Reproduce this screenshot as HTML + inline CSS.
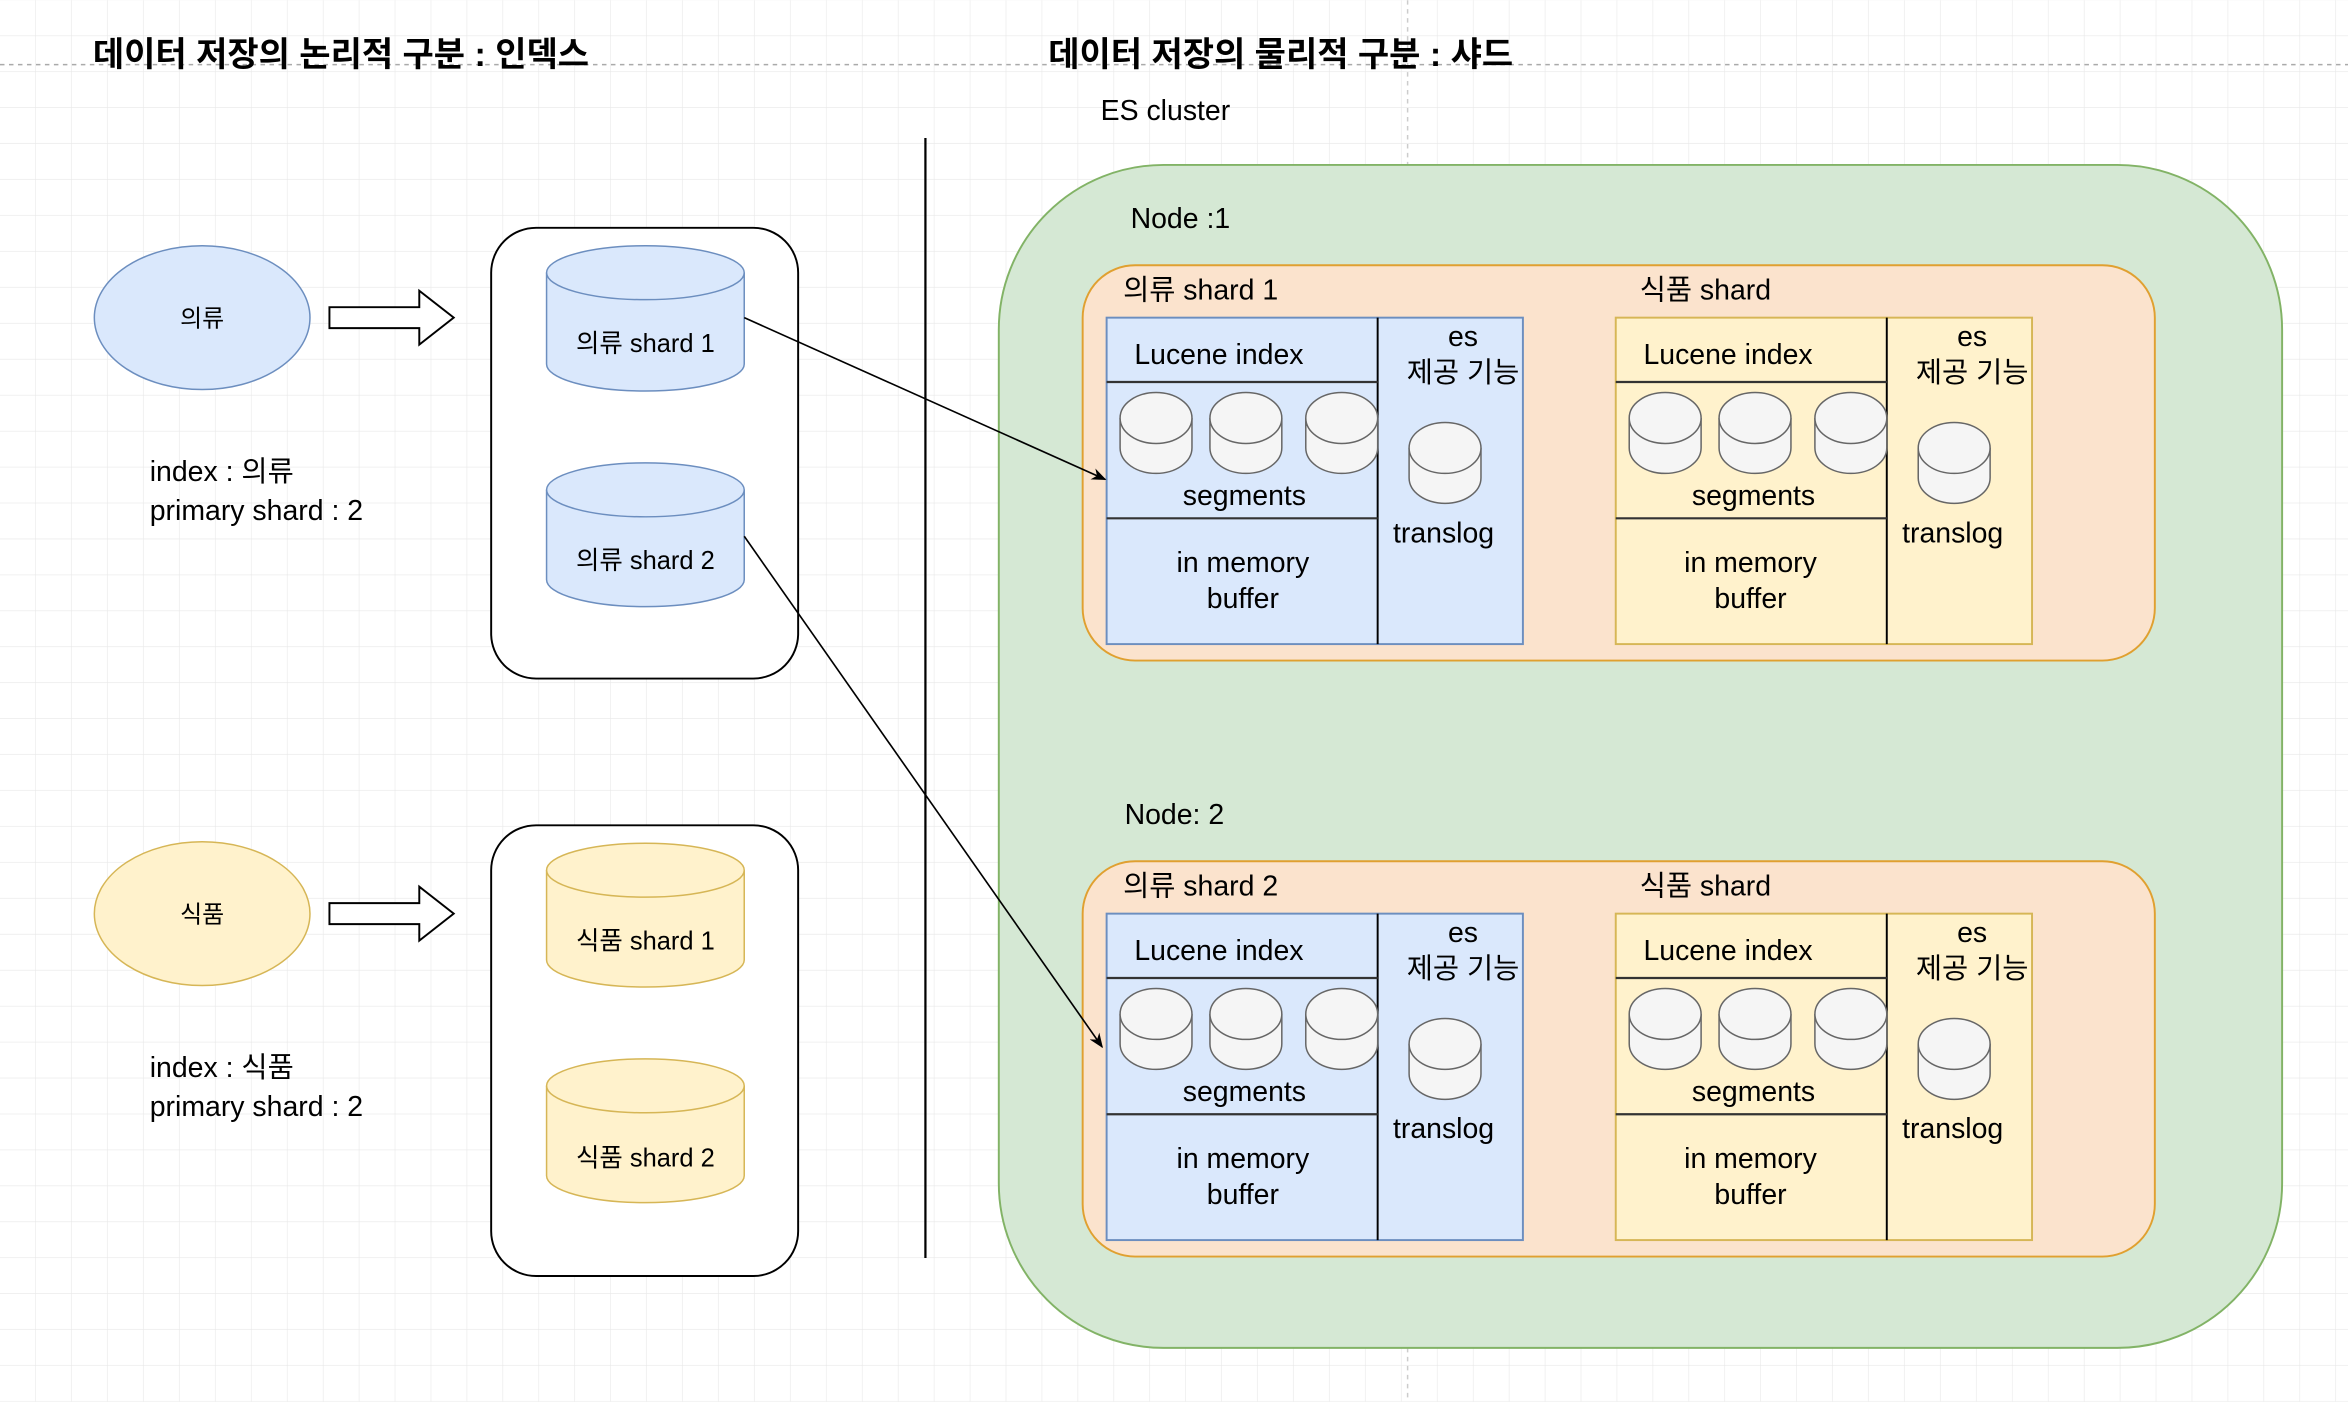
<!DOCTYPE html>
<html><head><meta charset="utf-8"><style>
html,body{margin:0;padding:0;background:#fff}
svg{display:block}
text{font-family:"Liberation Sans","Noto Sans CJK KR",sans-serif;fill:#000}
</style></head><body>
<svg width="2348" height="1402" viewBox="0 0 1568 936" xmlns="http://www.w3.org/2000/svg">
<defs>
<pattern id="g" width="24" height="24" patternUnits="userSpaceOnUse">
<path d="M24 0V24M0 24H24" fill="none" stroke="#e8e8e8" stroke-width="0.8"/>
</pattern>
<marker id="ah" viewBox="0 0 10 10" refX="9" refY="5" markerWidth="9" markerHeight="9" orient="auto"><path d="M0 1L10 5L0 9L3 5Z" fill="#000"/></marker>
<g id="cyl">
<path d="M-24 -10 V10 A24 17 0 0 0 24 10 V-10" fill="#f5f5f5" stroke="#666" stroke-width="1"/>
<ellipse cx="0" cy="-10" rx="24" ry="17" fill="#f5f5f5" stroke="#666" stroke-width="1"/>
</g>
<g id="nodebody">
<rect x="739" y="212" width="278" height="218" fill="#dae8fc" stroke="#6c8ebf" stroke-width="1.3"/>
<line x1="920" y1="212" x2="920" y2="430" stroke="#000" stroke-width="1.3"/>
<line x1="739" y1="255" x2="920" y2="255" stroke="#333" stroke-width="1.5"/>
<line x1="739" y1="346" x2="920" y2="346" stroke="#333" stroke-width="1.5"/>
<text x="814" y="243" font-size="19" text-anchor="middle">Lucene index</text>
<use href="#cyl" x="772" y="289"/><use href="#cyl" x="832" y="289"/><use href="#cyl" x="896" y="289"/>
<use href="#cyl" x="965" y="309"/>
<text x="831" y="337" font-size="19" text-anchor="middle">segments</text>
<text x="830" y="382" font-size="19" text-anchor="middle">in memory</text>
<text x="830" y="406" font-size="19" text-anchor="middle">buffer</text>
<text x="977" y="231" font-size="19" text-anchor="middle">es</text>
<text x="977" y="255" font-size="19" text-anchor="middle">제공 기능</text>
<text x="964" y="362" font-size="19" text-anchor="middle">translog</text>
<rect x="1079" y="212" width="278" height="218" fill="#fff2cc" stroke="#d6b656" stroke-width="1.3"/>
<line x1="1260" y1="212" x2="1260" y2="430" stroke="#000" stroke-width="1.3"/>
<line x1="1079" y1="255" x2="1260" y2="255" stroke="#333" stroke-width="1.5"/>
<line x1="1079" y1="346" x2="1260" y2="346" stroke="#333" stroke-width="1.5"/>
<text x="1154" y="243" font-size="19" text-anchor="middle">Lucene index</text>
<use href="#cyl" x="1112" y="289"/><use href="#cyl" x="1172" y="289"/><use href="#cyl" x="1236" y="289"/>
<use href="#cyl" x="1305" y="309"/>
<text x="1171" y="337" font-size="19" text-anchor="middle">segments</text>
<text x="1169" y="382" font-size="19" text-anchor="middle">in memory</text>
<text x="1169" y="406" font-size="19" text-anchor="middle">buffer</text>
<text x="1317" y="231" font-size="19" text-anchor="middle">es</text>
<text x="1317" y="255" font-size="19" text-anchor="middle">제공 기능</text>
<text x="1304" y="362" font-size="19" text-anchor="middle">translog</text>
</g>
</defs>
<rect width="1568" height="936" fill="url(#g)"/>
<line x1="0" y1="43" x2="1568" y2="43" stroke="#aaa" stroke-dasharray="3,3"/>
<line x1="940" y1="0" x2="940" y2="936" stroke="#ccc" stroke-dasharray="3,3"/>
<text x="62" y="44" font-size="22.7" font-weight="bold">데이터 저장의 논리적 구분 : 인덱스</text>
<text x="700" y="44" font-size="22.7" font-weight="bold">데이터 저장의 물리적 구분 : 샤드</text>
<text x="735" y="80" font-size="19">ES cluster</text>
<line x1="618" y1="92" x2="618" y2="840" stroke="#000" stroke-width="1.5"/>

<ellipse cx="135" cy="212" rx="72" ry="48" fill="#dae8fc" stroke="#6c8ebf"/>
<text x="135" y="218" font-size="16" text-anchor="middle">의류</text>
<path d="M220 205H280V194L303 212L280 230V219H220Z" fill="#fff" stroke="#000" stroke-width="1.3"/>
<rect x="328" y="152" width="205" height="301" rx="30" fill="#fff" stroke="#000" stroke-width="1.3"/>
<g fill="#dae8fc" stroke="#6c8ebf">
<path d="M365 182V243A66 18 0 0 0 497 243V182"/><ellipse cx="431" cy="182" rx="66" ry="18"/>
<path d="M365 327V387A66 18 0 0 0 497 387V327"/><ellipse cx="431" cy="327" rx="66" ry="18"/>
</g>
<text x="431" y="235" font-size="17" text-anchor="middle">의류 shard 1</text>
<text x="431" y="380" font-size="17" text-anchor="middle">의류 shard 2</text>
<text x="100" y="321" font-size="19">index : 의류</text>
<text x="100" y="347" font-size="19">primary shard : 2</text>

<ellipse cx="135" cy="610" rx="72" ry="48" fill="#fff2cc" stroke="#d6b656"/>
<text x="135" y="616" font-size="16" text-anchor="middle">식품</text>
<path d="M220 603H280V592L303 610L280 628V617H220Z" fill="#fff" stroke="#000" stroke-width="1.3"/>
<rect x="328" y="551" width="205" height="301" rx="30" fill="#fff" stroke="#000" stroke-width="1.3"/>
<g fill="#fff2cc" stroke="#d6b656">
<path d="M365 581V641A66 18 0 0 0 497 641V581"/><ellipse cx="431" cy="581" rx="66" ry="18"/>
<path d="M365 725V785A66 18 0 0 0 497 785V725"/><ellipse cx="431" cy="725" rx="66" ry="18"/>
</g>
<text x="431" y="634" font-size="17" text-anchor="middle">식품 shard 1</text>
<text x="431" y="779" font-size="17" text-anchor="middle">식품 shard 2</text>
<text x="100" y="719" font-size="19">index : 식품</text>
<text x="100" y="745" font-size="19">primary shard : 2</text>

<rect x="667" y="110" width="857" height="790" rx="110" fill="#d5e8d4" stroke="#82b366" stroke-width="1.3"/>
<text x="755" y="152" font-size="19">Node :1</text>
<text x="751" y="550" font-size="19">Node: 2</text>

<rect x="723" y="177" width="716" height="264" rx="35" fill="#fbe3cd" stroke="#e0a030" stroke-width="1.3"/>
<text x="750" y="200" font-size="19">의류 shard 1</text>
<text x="1095" y="200" font-size="19">식품 shard</text>
<use href="#nodebody"/>

<g transform="translate(0,398)">
<rect x="723" y="177" width="716" height="264" rx="35" fill="#fbe3cd" stroke="#e0a030" stroke-width="1.3"/>
<text x="750" y="200" font-size="19">의류 shard 2</text>
<text x="1095" y="200" font-size="19">식품 shard</text>
<use href="#nodebody"/>
</g>

<line x1="497" y1="212" x2="738" y2="320" stroke="#000" stroke-width="1.1" marker-end="url(#ah)"/>
<line x1="497" y1="358" x2="736" y2="699" stroke="#000" stroke-width="1.1" marker-end="url(#ah)"/>
</svg>
</body></html>
